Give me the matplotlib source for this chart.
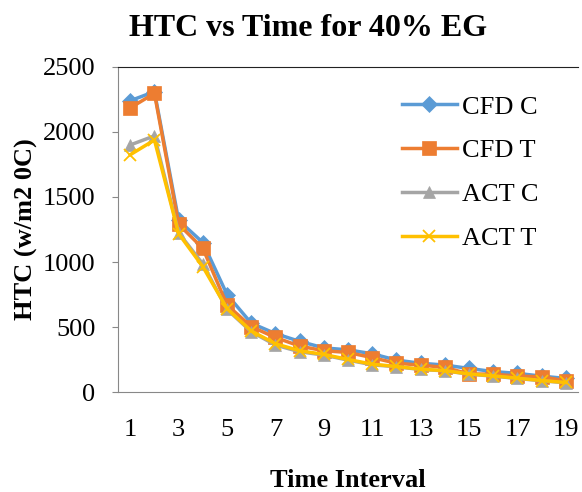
import numpy as np
import matplotlib.pyplot as plt

# данные
intervals = np.arange(1, 20)
cfd_c = [2240, 2310, 1320, 1150, 750, 530, 450, 390, 340, 325, 295, 246, 222, 208, 182, 158, 144, 123, 105]
cfd_t = [2185, 2297, 1290, 1105, 670, 503, 420, 354, 318, 305, 265, 222, 208, 190, 140, 138, 123, 118, 87]
act_c = [1900, 1970, 1225, 985, 636, 464, 362, 310, 285, 246, 210, 195, 174, 164, 138, 123, 105, 87, 72]
act_t = [1825, 1938, 1218, 964, 642, 470, 372, 318, 290, 251, 215, 197, 176, 165, 140, 125, 107, 89, 74]

series = [
    ('CFD C', cfd_c, '#5B9BD5', 'D', 8),
    ('CFD T', cfd_t, '#ED7D31', 's', 10),
    ('ACT C', act_c, '#A5A5A5', '^', 9),
    ('ACT T', act_t, '#FFC000', 'x', 9),
]

plt.rcParams['font.family'] = ['Liberation Serif', 'DejaVu Serif']

fig = plt.figure(figsize=(5.82, 4.92), dpi=100)
ax = fig.add_axes([0.203, 0.203, 0.79, 0.661])

for name, vals, col, mk, ms in series:
    ax.plot(intervals, vals, color=col, lw=2.5, marker=mk, markersize=ms,
            markeredgewidth=1.3 if mk == 'x' else 0.5, markeredgecolor=col,
            label=name)

ax.set_xlim(0.5, 19.5)
ax.set_ylim(0, 2500)
ax.set_xticks(np.arange(1, 20, 2))
ax.set_yticks(np.arange(0, 2501, 500))
ax.tick_params(axis='x', length=0, labelsize=19, pad=19)
ax.tick_params(axis='y', length=4.3, color='#888888', labelsize=19, pad=12)

for s in ['left', 'bottom']:
    ax.spines[s].set_color('#888888')
ax.spines['right'].set_visible(False)
ax.spines['top'].set_color('#222222')

# заголовок по центру всей области диаграммы, как в Excel
fig.text(0.53, 1 - 28 / 492, 'HTC vs Time for 40% EG', fontsize=23,
         fontweight='bold', ha='center', va='center')
ax.set_xlabel('Time Interval', fontsize=19, fontweight='bold')
ax.set_ylabel('HTC (w/m2 0C)', fontsize=19, fontweight='bold')
ax.xaxis.set_label_coords(0.5, -0.235)
ax.yaxis.set_label_coords(-0.175, 0.5)

ax.legend(loc='upper left', bbox_to_anchor=(0.617, 0.913), frameon=False,
          fontsize=19, labelspacing=0.77, handlelength=2.08, handletextpad=0.2,
          borderpad=0, borderaxespad=0)

fig.savefig('out.png', dpi=100)
